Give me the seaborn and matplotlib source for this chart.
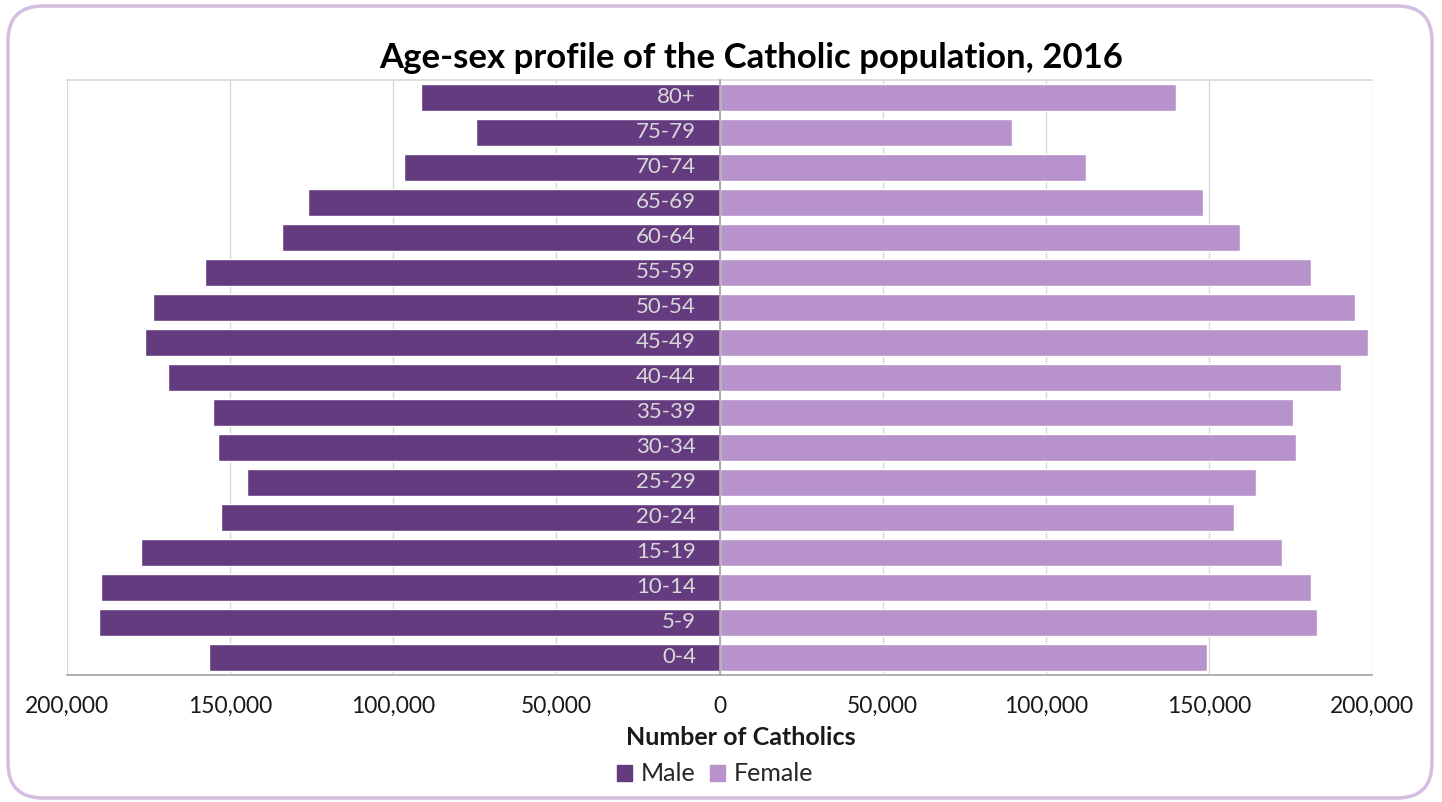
import matplotlib
matplotlib.use("Agg")
import matplotlib.pyplot as plt
from matplotlib.patches import FancyBboxPatch, Patch
from matplotlib.ticker import FuncFormatter
import seaborn as sns
import numpy as np
import pandas as pd

sns.set_theme(style="white")
plt.rcParams['font.family'] = ['Lato', 'DejaVu Sans']

# data, top row first (80+ at the top)
age_groups = ['80+', '75-79', '70-74', '65-69', '60-64', '55-59', '50-54', '45-49',
              '40-44', '35-39', '30-34', '25-29', '20-24', '15-19', '10-14', '5-9', '0-4']
male = [91400, 74500, 96600, 126000, 134000, 157700, 173600, 176100,
        169000, 155200, 153700, 144800, 152800, 177300, 189600, 190200, 156400]
female = [139900, 89600, 112300, 148200, 159500, 181300, 194800, 198800,
          190500, 175800, 176700, 164400, 157700, 172400, 181300, 183100, 149400]

male_color = '#643b7f'
female_color = '#b792cb'

df = pd.DataFrame({
    'age': age_groups * 2,
    'count': [-m for m in male] + female,
    'sex': ['Male'] * len(male) + ['Female'] * len(female),
})

fig = plt.figure(figsize=(14.42, 8.02), dpi=100)
ax = fig.add_axes([0.0465, 0.1584, 0.9050, 0.7419])

sns.barplot(data=df, x='count', y='age', hue='sex', order=age_groups,
            palette={'Male': male_color, 'Female': female_color},
            dodge=False, width=0.77, orient='h', ax=ax, legend=False,
            saturation=1)

ax.set_xlim(-200000, 200000)
ax.set_ylim(len(age_groups) - 0.5, -0.5)
ax.set_xticks(np.arange(-200000, 200001, 50000))
ax.xaxis.set_major_formatter(FuncFormatter(lambda v, p: f'{abs(int(v)):,}'))
ax.tick_params(axis='x', labelsize=16.5, colors='#a6a6a6', labelcolor='#1a1a1a',
               length=6, width=1, direction='out', pad=9)

ax.set_axisbelow(True)
ax.xaxis.grid(True, color='#d9d9d9', linewidth=1)

# y axis sits at zero, ticks between the categories
ax.spines['left'].set_position(('data', 0))
ax.spines['left'].set_color('#a6a6a6')
ax.spines['left'].set_zorder(3)
ax.set_yticks(np.arange(-0.5, len(age_groups), 1))
ax.set_yticklabels([])
ax.tick_params(axis='y', colors='#a6a6a6', length=7, width=1, direction='out')
ax.spines['bottom'].set_color('#a6a6a6')
ax.spines['top'].set_color('#d9d9d9')
ax.spines['right'].set_visible(False)
ax.set_ylabel('')

# age group labels inside the male bars
for i, lab in enumerate(age_groups):
    ax.annotate(lab, xy=(0, i), xytext=(-17, 0), textcoords='offset points',
                ha='right', va='center', fontsize=16, color='#d9d9d9', zorder=4)

ax.set_xlabel('Number of Catholics', fontsize=18, fontweight='bold',
              color='#1a1a1a')
ax.xaxis.set_label_coords(0.516, -0.085)
fig.suptitle('Age-sex profile of the Catholic population, 2016', fontsize=25,
             fontweight='bold', color='#000000', x=0.521, y=0.948)

handles = [Patch(color=male_color, label='Male'), Patch(color=female_color, label='Female')]
fig.legend(handles=handles, loc='center', bbox_to_anchor=(0.496, 0.035), ncol=2,
           frameon=False, fontsize=18, handlelength=0.6, handleheight=0.6,
           handletextpad=0.35, columnspacing=0.6)

border = FancyBboxPatch((0.08, 0.04), 14.24, 7.92, boxstyle='round,pad=0,rounding_size=0.35',
                        transform=fig.dpi_scale_trans, facecolor='none',
                        edgecolor='#d5bde2', linewidth=2.5)
fig.patches.append(border)

fig.savefig('out.png', dpi=100)
